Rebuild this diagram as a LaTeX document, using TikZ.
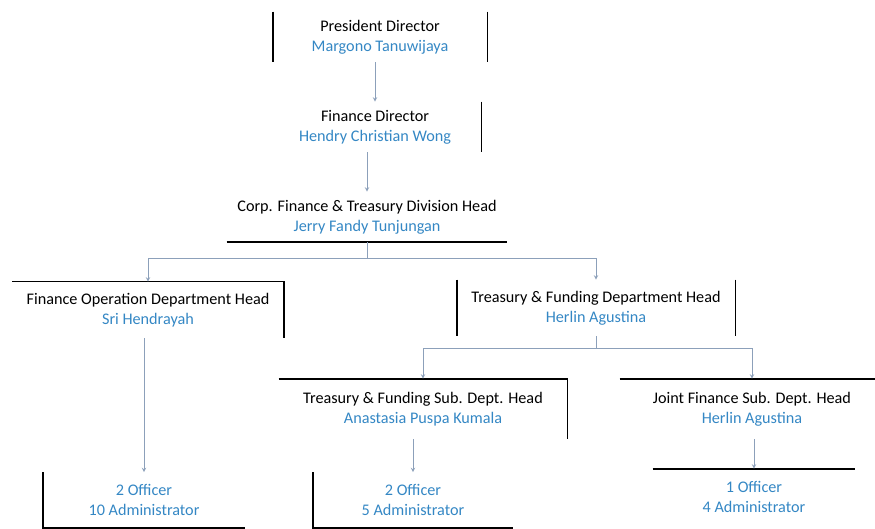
\documentclass[tikz,border=0pt]{standalone}
\usepackage{fontspec}
\setmainfont{Carlito}
\usepackage{tikz}
\usetikzlibrary{positioning}
\usetikzlibrary{arrows}

\definecolor{namecol}{RGB}{52,135,196}
\definecolor{linkcol}{RGB}{140,160,186}
\newcommand{\staff}[1]{\textcolor{namecol}{#1}}

\begin{document}
\begin{tikzpicture}[
            x = 1pt, y = -1pt, % pixel units, y going down
            > = stealth, % arrow head style
            node distance = 90pt, % distance between levels
            semithick % line style
        ]

        \tikzstyle{orgbox}=[
            draw = none,
            align = center,
            font = \fontsize{16.2}{20}\selectfont,
            minimum height = 50pt,
            inner sep = 0pt
        ]
        \tikzstyle{boxline}=[black, line width = 1.6pt]
        \tikzstyle{feed}=[->, linkcol, line width = 1pt]

        \useasboundingbox (0,0) rectangle (875,529);

	% BOARD
        \node[orgbox, minimum width = 214pt] (PD) at (380,37) {President Director\\\staff{Margono Tanuwijaya}};
        \node[orgbox, minimum width = 212pt] (FD) [below of=PD, xshift=-5pt] {Finance Director\\\staff{Hendry Christian Wong}};
        \node[orgbox, minimum width = 280pt] (CD) [below of=FD, xshift=-8pt] {Corp. Finance \& Treasury Division Head\\\staff{Jerry Fandy Tunjungan}};

	% DEPARTMENTS
        \node[orgbox, minimum width = 271pt, minimum height = 56pt] (FO) at (148,310) {Finance Operation Department Head\\\staff{Sri Hendrayah}};
        \node[orgbox, minimum width = 278pt, minimum height = 56pt] (TF) at (596,308) {Treasury \& Funding Department Head\\\staff{Herlin Agustina}};

	% SUB DEPARTMENTS
        \node[orgbox, minimum width = 288pt, minimum height = 60pt] (TS) at (423,409) {Treasury \& Funding Sub. Dept. Head\\\staff{Anastasia Puspa Kumala}};
        \node[orgbox, minimum width = 264pt, minimum height = 60pt] (JF) at (752,409) {Joint Finance Sub. Dept. Head\\\staff{Herlin Agustina}};

	% STAFF
        \node[orgbox, minimum width = 202pt, minimum height = 55pt] (S1) at (144,500) {\staff{2 Officer}\\\staff{10 Administrator}};
        \node[orgbox, minimum width = 200pt, minimum height = 55pt] (S2) at (413,500) {\staff{2 Officer}\\\staff{5 Administrator}};
        \node[orgbox, minimum width = 202pt, minimum height = 56pt] (S3) at (754,497) {\staff{1 Officer}\\\staff{4 Administrator}};

	% BOX SIDES
        \draw[boxline] (PD.north west) -- (PD.south west) (PD.north east) -- (PD.south east);
        \draw[boxline] (FD.north east) -- (FD.south east);
        \draw[boxline] (CD.south west) -- (CD.south east);
        \draw[boxline] (FO.north west) -- (FO.north east) -- (FO.south east);
        \draw[boxline] (TF.north west) -- (TF.south west) (TF.north east) -- (TF.south east);
        \draw[boxline] (TS.north west) -- (TS.north east) -- (TS.south east);
        \draw[boxline] (JF.north west) -- (JF.north east);
        \draw[boxline] (S1.north west) -- (S1.south west) -- (S1.south east);
        \draw[boxline] (S2.north west) -- (S2.south west) -- (S2.south east);
        \draw[boxline] (S3.north west) -- (S3.north east);

	% REPORTING LINES
        \draw[feed] (PD.south -| FD.north) -- (FD.north);
        \draw[feed] (FD.south -| CD.north) -- (CD.north);
        \draw[feed] (CD.south) -- ++(0,16) -| (FO.north);
        \draw[feed] (CD.south) -- ++(0,16) -| (TF.north);
        \draw[feed] (TF.south) -- ++(0,12) -| (TS.north);
        \draw[feed] (TF.south) -- ++(0,12) -| (JF.north);
        \draw[feed] (FO.south -| S1.north) -- (S1.north);
        \draw[feed] (TS.south -| S2.north) -- (S2.north);
        \draw[feed] (JF.south -| S3.north) -- (S3.north);

  \end{tikzpicture}
\end{document}
